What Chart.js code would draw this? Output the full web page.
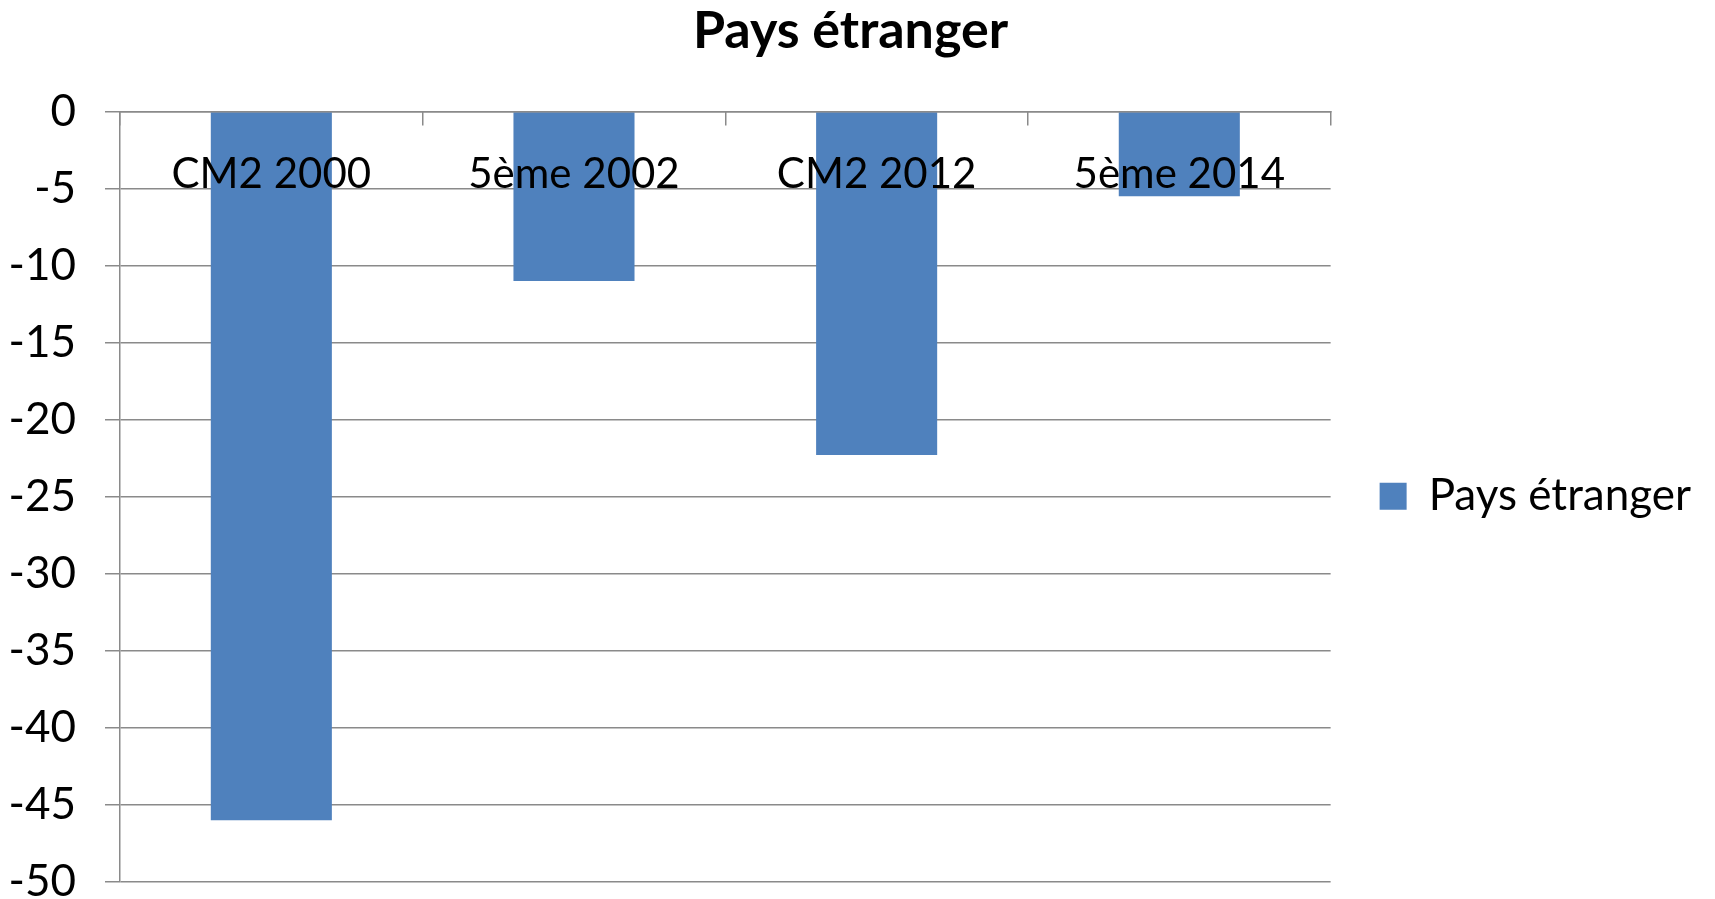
<!DOCTYPE html>
<html>
<head>
<meta charset="utf-8">
<script src="https://cdn.jsdelivr.net/npm/chart.js@4/dist/chart.umd.min.js"></script>
<style>
  html, body { margin: 0; padding: 0; background: #fff; }
  #wrap { width: 1715px; height: 899px; position: relative; }
</style>
</head>
<body>
<div id="wrap"><canvas id="chart"></canvas></div>
<script>
  // data
  const categories = ['CM2 2000', '5ème 2002', 'CM2 2012', '5ème 2014'];
  const seriesName = 'Pays étranger';
  const values = [-46, -11, -22.3, -5.5];
  const yMin = -50, yMax = 0, yStep = 5;

  const axisGray = '#8a8a8a';

  Chart.defaults.font.family = 'Lato, "Open Sans", sans-serif';
  Chart.defaults.color = '#000';

  new Chart(document.getElementById('chart'), {
    type: 'bar',
    data: {
      labels: categories,
      datasets: [{
        label: seriesName,
        data: values,
        backgroundColor: '#4F81BD',
        borderWidth: 0,
        barPercentage: 0.4,
        categoryPercentage: 1
      }]
    },
    options: {
      responsive: true,
      maintainAspectRatio: false,
      devicePixelRatio: 1,
      animation: false,
      layout: {
        padding: { left: 0, right: 14, top: 0, bottom: 17 }
      },
      plugins: {
        title: {
          display: true,
          text: seriesName,
          color: '#000',
          font: { size: 52, weight: 'bold' },
          padding: { top: 0, bottom: 49 }
        },
        legend: {
          position: 'right',
          title: {
            display: true,
            text: '',
            padding: { top: 48, bottom: 48 }
          },
          labels: {
            boxWidth: 27,
            boxHeight: 27,
            color: '#000',
            font: { size: 44 },
            padding: 49
          }
        },
        tooltip: { enabled: false }
      },
      scales: {
        x: {
          position: 'top',
          offset: true,
          grid: {
            display: true,
            drawOnChartArea: false,
            drawTicks: true,
            tickLength: -14,
            color: axisGray,
            lineWidth: 1.5,
            offset: true
          },
          border: { display: true, color: axisGray, width: 1.5, z: 1 },
          ticks: {
            z: 1,
            font: { size: 42 },
            color: '#000',
            mirror: true,
            padding: 38,
            maxRotation: 0,
            autoSkip: false
          },
          afterFit: scale => {
            scale.height = 0;
            scale.paddingLeft = 0;
            scale.paddingRight = 0;
          }
        },
        y: {
          min: yMin,
          max: yMax,
          grid: {
            color: axisGray,
            lineWidth: 1.5,
            drawTicks: true,
            tickLength: 15
          },
          border: { display: true, color: axisGray, width: 1.5 },
          ticks: {
            stepSize: yStep,
            font: { size: 44 },
            color: '#000',
            padding: 29
          },
          afterFit: scale => {
            scale.width = 120;
            scale.paddingTop = 0;
            scale.paddingBottom = 0;
          }
        }
      }
    }
  });
</script>
</body>
</html>
